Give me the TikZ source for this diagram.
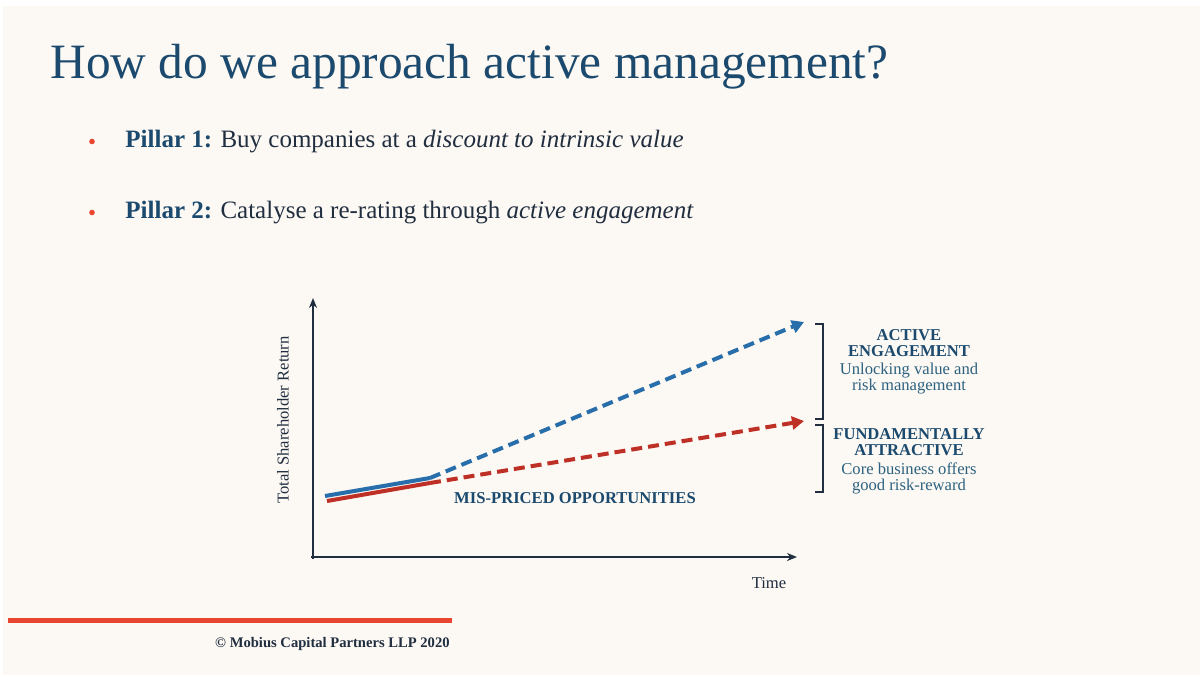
\documentclass[tikz,border=0pt]{standalone}
\usepackage{fontspec}
\setmainfont{Liberation Serif}
\usetikzlibrary{arrows.meta,positioning}

\definecolor{paper}{RGB}{252,248,243}
\definecolor{navy}{RGB}{27,74,110}
\definecolor{ink}{RGB}{32,46,64}
\definecolor{tealblue}{RGB}{44,98,128}
\definecolor{lineblue}{RGB}{40,110,170}
\definecolor{linered}{RGB}{190,48,38}
\definecolor{rulered}{RGB}{232,70,46}

\tikzset{
  axis/.style={ink,line width=1pt,-{Stealth[length=5pt,width=4pt]}},
  trend/.style={line width=2pt},
  proj/.style={trend,dash pattern=on 5.5pt off 3pt,-{Triangle[length=6pt,width=6.5pt]}},
  head/.style={navy,font=\fontsize{8.3}{8}\selectfont\bfseries,align=center},
  sub/.style={tealblue,font=\fontsize{8.3}{8}\selectfont,align=center},
  brace/.style={ink,line width=0.8pt},
}

\begin{document}
\begin{tikzpicture}[x=0.5pt,y=-0.5pt,>=Stealth,font=\fontsize{8.3}{10}\selectfont]
\fill[white] (0,0) rectangle (1200,675);
\fill[paper] (3,6) rectangle (1200,675);
\useasboundingbox (0,0) rectangle (1200,675);

% title and bullets
\node[anchor=base west,navy,font=\fontsize{24.7}{28}\selectfont,inner sep=0] (title) at (50,78)
  {How do we approach active management?};
\foreach \y/\n/\txt in {147/1/{Buy companies at a \textit{discount to intrinsic value}},
                        218/2/{Catalyse a re-rating through \textit{active engagement}}}{
  \fill[rulered] (92,\y-5.5) circle (2.8);
  \node[anchor=base west,ink,font=\fontsize{12.5}{14}\selectfont,inner sep=0] (pillar\n) at (125,\y)
    {\textbf{\color{navy}Pillar \n:} \txt};
}

% axes
\coordinate (origin) at (313,557);
\coordinate (ytop) at (313,298);
\coordinate (xend) at (797,557);
\draw[axis] ([yshift=-1pt]origin) -- (ytop);
\draw[axis] ([xshift=-1pt]origin) -- (xend);
\node[ink,rotate=90] (ylabel) at (283,420) {Total Shareholder Return};
\node[ink] (xlabel) at (769,583) {Time};

% return paths
\coordinate (b0) at (325,496);
\coordinate (b1) at (430,478);
\coordinate (b2) at (804,322);
\coordinate (r0) at (327,501);
\coordinate (r1) at (430,483);
\coordinate (r2) at (804,421);
\draw[trend,lineblue] (b0) -- (b1);
\draw[trend,linered] (r0) -- (r1);
\draw[proj,lineblue] (b1) -- (b2);
\draw[proj,linered] (r1) -- (r2);
\node[navy,font=\fontsize{8.3}{10}\selectfont\bfseries] (mispriced) at (575,498) {MIS-PRICED OPPORTUNITIES};

% brackets and their labels
\draw[brace] (815,324) -- (823,324) -- (823,419) -- (815,419);
\draw[brace] (815,425) -- (823,425) -- (823,492) -- (815,492);
\node[head] (active) at (909,343) {ACTIVE\\ENGAGEMENT};
\node[sub] (activesub) at (909,379) {Unlocking value and\\risk management};
\node[head] (fund) at (909,442) {FUNDAMENTALLY\\ATTRACTIVE};
\node[sub] (fundsub) at (909,478) {Core business offers\\good risk-reward};

% footer
\draw[rulered,line width=2.5pt] (8,620) -- (452,620);
\node[anchor=base east,ink,font=\fontsize{7.3}{9}\selectfont\bfseries,inner sep=0] (copy) at (450,647)
  {© Mobius Capital Partners LLP 2020};
\end{tikzpicture}
\end{document}
